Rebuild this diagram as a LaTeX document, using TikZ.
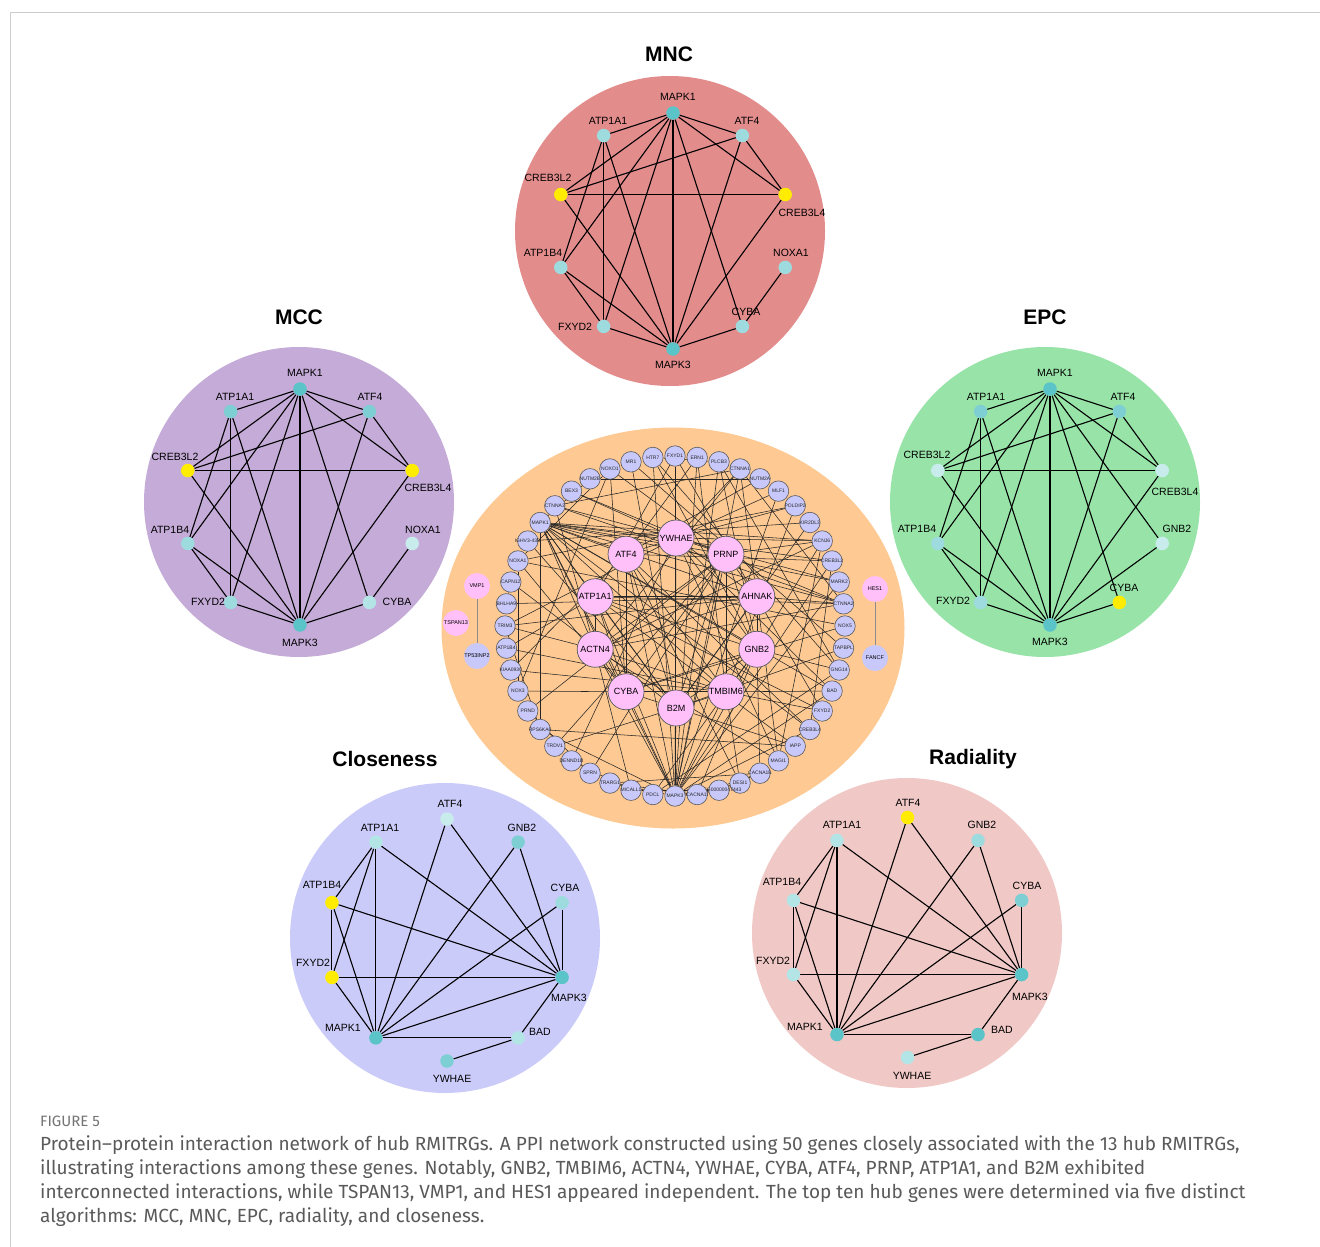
\documentclass[tikz,border=0pt]{standalone}
\usepackage{fontspec}
\setmainfont{Liberation Sans}
\newfontfamily\capfont{Fira Sans}
\usetikzlibrary{shapes.geometric}
\pgfdeclarelayer{back}
\pgfdeclarelayer{edges}
\pgfsetlayers{back,edges,main}
\definecolor{mncbg}{RGB}{227,140,140}
\definecolor{mccbg}{RGB}{197,171,216}
\definecolor{epcbg}{RGB}{152,228,168}
\definecolor{clobg}{RGB}{203,203,250}
\definecolor{radbg}{RGB}{240,200,198}
\definecolor{ellbg}{RGB}{254,201,146}
\definecolor{ringfill}{RGB}{200,200,250}
\definecolor{hubfill}{RGB}{255,192,250}
\definecolor{tD}{RGB}{91,196,201}
\definecolor{tM}{RGB}{125,207,211}
\definecolor{tL}{RGB}{158,219,222}
\definecolor{tLL}{RGB}{180,229,230}
\definecolor{tX}{RGB}{200,236,236}
\definecolor{yel}{RGB}{255,236,0}
\definecolor{capgray}{RGB}{90,90,90}
\tikzset{
  gdot/.style={circle, minimum size=13.5pt, inner sep=0pt, draw=none},
  glab/.style={font=\fontsize{10.5}{12}\selectfont, inner sep=0pt},
  gedge/.style={line width=1.1pt, black},
  ttl/.style={font=\fontsize{21}{24}\selectfont\bfseries, inner sep=0pt},
  bgdisc/.style={circle, draw=none, minimum size=310pt, inner sep=0pt},
  ringn/.style={circle, draw=black!65, line width=0.6pt, fill=ringfill, minimum size=20.5pt, inner sep=0pt,
    label={[font=\fontsize{5}{6}\selectfont, inner sep=0pt, text=black!85]center:#1}},
  hubn/.style={circle, draw=black!65, line width=0.7pt, fill=hubfill, minimum size=36pt, inner sep=0pt,
    label={[font=\fontsize{9}{10}\selectfont, inner sep=0pt]center:#1}},
  isol/.style={circle, draw=none, minimum size=26pt, inner sep=0pt,
    label={[font=\fontsize{5.5}{6}\selectfont, inner sep=0pt]center:#1}},
  cedge/.style={line width=0.55pt, black!85},
  capline/.style={anchor=west, inner sep=0pt, font=\capfont\fontsize{19}{22}\selectfont, text=capgray},
}
\newcommand\gn[6]{%
  \node[gdot, fill=#3] (#1) at ({\cx+\R*cos(#2)},{\cy-\R*sin(#2)}) {};
  \node[glab] (#1-l) at (#4,#5) {#6};}
\def\mnclist{MAPK1/ATP1A1, MAPK1/ATF4, MAPK1/CREB3L4, MAPK1/CREB3L2, MAPK1/ATP1B4, MAPK1/FXYD2, MAPK1/MAPK3, MAPK1/CYBA, ATP1A1/ATP1B4, ATP1A1/FXYD2, ATP1A1/MAPK3, ATF4/CREB3L2, ATF4/CREB3L4, ATF4/MAPK3, CREB3L2/CREB3L4, CREB3L2/MAPK3, CREB3L4/MAPK3, ATP1B4/FXYD2, ATP1B4/MAPK3, FXYD2/MAPK3, CYBA/MAPK3, NOXA1/CYBA}
\def\epclist{MAPK1/ATP1A1, MAPK1/ATF4, MAPK1/CREB3L4, MAPK1/CREB3L2, MAPK1/ATP1B4, MAPK1/FXYD2, MAPK1/MAPK3, MAPK1/CYBA, MAPK1/GNB2, ATP1A1/ATP1B4, ATP1A1/FXYD2, ATP1A1/MAPK3, ATF4/CREB3L2, ATF4/CREB3L4, ATF4/MAPK3, CREB3L2/CREB3L4, CREB3L2/MAPK3, CREB3L4/MAPK3, ATP1B4/FXYD2, ATP1B4/MAPK3, FXYD2/MAPK3, CYBA/MAPK3, GNB2/MAPK3}
\def\clolist{ATP1A1/ATP1B4, ATP1A1/FXYD2, ATP1A1/MAPK1, ATP1A1/MAPK3, ATF4/MAPK1, ATF4/MAPK3, GNB2/MAPK1, GNB2/MAPK3, CYBA/MAPK1, CYBA/MAPK3, ATP1B4/FXYD2, ATP1B4/MAPK1, ATP1B4/MAPK3, FXYD2/MAPK3, FXYD2/MAPK1, MAPK1/MAPK3, MAPK1/BAD, MAPK3/BAD, BAD/YWHAE}
\begin{document}
\begin{tikzpicture}[x=1pt,y=-1pt]
\useasboundingbox (0,0) rectangle (1320,1247);

% ---------- backgrounds ----------
\begin{pgfonlayer}{back}
\fill[white] (0,0) rectangle (1320,1247);
\draw[black!20, line width=0.8pt] (1320,12) -- (10,12) -- (10,1247);
\node[bgdisc, fill=mncbg] (bg-mnc) at (670,231) {};
\node[bgdisc, fill=mccbg] (bg-mcc) at (299,502) {};
\node[bgdisc, fill=epcbg] (bg-epc) at (1045,502) {};
\node[bgdisc, fill=clobg] (bg-clo) at (445,938) {};
\node[bgdisc, fill=radbg] (bg-rad) at (907,933) {};
\node[ellipse, draw=none, fill=ellbg, minimum width=463pt, minimum height=401pt, inner sep=0pt] (bg-ell) at (673,628) {};
\end{pgfonlayer}

% ---------- titles ----------
\node[ttl] (t-mnc) at (669,54) {MNC};
\node[ttl] (t-mcc) at (299,317) {MCC};
\node[ttl] (t-epc) at (1045,317) {EPC};
\node[ttl] (t-clo) at (385,759) {Closeness};
\node[ttl] (t-rad) at (973,759) {Radiality};

% ---------- MNC ----------
\begin{scope}[name prefix=mnc-]
\def\cx{673}\def\cy{231}\def\R{118}
\gn{MAPK1}{90}{tD}{678}{97}{MAPK1}
\gn{ATF4}{54}{tL}{747}{121}{ATF4}
\gn{CREB3L4}{18}{yel}{802}{213}{CREB3L4}
\gn{NOXA1}{-18}{tL}{791}{253}{NOXA1}
\gn{CYBA}{-54}{tL}{746}{312}{CYBA}
\gn{MAPK3}{-90}{tD}{673}{365}{MAPK3}
\gn{FXYD2}{-126}{tL}{575}{327}{FXYD2}
\gn{ATP1B4}{-162}{tL}{543}{253}{ATP1B4}
\gn{CREB3L2}{162}{yel}{548}{178}{CREB3L2}
\gn{ATP1A1}{126}{tL}{608}{121}{ATP1A1}
\begin{pgfonlayer}{edges}
\foreach \a/\b in \mnclist {\draw[gedge] (\a) -- (\b);}
\end{pgfonlayer}
\end{scope}

% ---------- MCC ----------
\begin{scope}[name prefix=mcc-]
\def\cx{300}\def\cy{507}\def\R{118}
\gn{MAPK1}{90}{tD}{305}{373}{MAPK1}
\gn{ATF4}{54}{tM}{370}{397}{ATF4}
\gn{CREB3L4}{18}{yel}{428}{488}{CREB3L4}
\gn{NOXA1}{-18}{tX}{423}{530}{NOXA1}
\gn{CYBA}{-54}{tLL}{397}{602}{CYBA}
\gn{MAPK3}{-90}{tD}{300}{643}{MAPK3}
\gn{FXYD2}{-126}{tL}{208}{602}{FXYD2}
\gn{ATP1B4}{-162}{tL}{170}{530}{ATP1B4}
\gn{CREB3L2}{162}{yel}{175}{457}{CREB3L2}
\gn{ATP1A1}{126}{tM}{235}{397}{ATP1A1}
\begin{pgfonlayer}{edges}
\foreach \a/\b in \mnclist {\draw[gedge] (\a) -- (\b);}
\end{pgfonlayer}
\end{scope}

% ---------- EPC ----------
\begin{scope}[name prefix=epc-]
\def\cx{1050}\def\cy{507}\def\R{118}
\gn{MAPK1}{90}{tD}{1055}{373}{MAPK1}
\gn{ATF4}{54}{tM}{1123}{397}{ATF4}
\gn{CREB3L4}{18}{tX}{1175}{492}{CREB3L4}
\gn{GNB2}{-18}{tX}{1177}{529}{GNB2}
\gn{CYBA}{-54}{yel}{1124}{588}{CYBA}
\gn{MAPK3}{-90}{tD}{1050}{642}{MAPK3}
\gn{FXYD2}{-126}{tL}{953}{601}{FXYD2}
\gn{ATP1B4}{-162}{tL}{917}{529}{ATP1B4}
\gn{CREB3L2}{162}{tX}{927}{455}{CREB3L2}
\gn{ATP1A1}{126}{tM}{986}{397}{ATP1A1}
\begin{pgfonlayer}{edges}
\foreach \a/\b in \epclist {\draw[gedge] (\a) -- (\b);}
\end{pgfonlayer}
\end{scope}

% ---------- Closeness ----------
\begin{scope}[name prefix=clo-]
\def\cx{447}\def\cy{940}\def\R{121}
\gn{ATF4}{90}{tX}{450}{804}{ATF4}
\gn{GNB2}{54}{tM}{522}{828}{GNB2}
\gn{CYBA}{18}{tL}{565}{888}{CYBA}
\gn{MAPK3}{-18}{tD}{569}{998}{MAPK3}
\gn{BAD}{-54}{tLL}{540}{1032}{BAD}
\gn{YWHAE}{-90}{tM}{452}{1079}{YWHAE}
\gn{MAPK1}{-126}{tD}{343}{1028}{MAPK1}
\gn{FXYD2}{-162}{yel}{313}{963}{FXYD2}
\gn{ATP1B4}{162}{yel}{322}{885}{ATP1B4}
\gn{ATP1A1}{126}{tLL}{380}{828}{ATP1A1}
\begin{pgfonlayer}{edges}
\foreach \a/\b in \clolist {\draw[gedge] (\a) -- (\b);}
\end{pgfonlayer}
\end{scope}

% ---------- Radiality ----------
\begin{scope}[name prefix=rad-]
\def\cx{907.5}\def\cy{937.5}\def\R{120}
\gn{ATF4}{90}{yel}{908}{803}{ATF4}
\gn{GNB2}{54}{tL}{982}{825}{GNB2}
\gn{CYBA}{18}{tM}{1027}{886}{CYBA}
\gn{MAPK3}{-18}{tD}{1030}{997}{MAPK3}
\gn{BAD}{-54}{tD}{1002}{1030}{BAD}
\gn{YWHAE}{-90}{tLL}{912}{1076}{YWHAE}
\gn{MAPK1}{-126}{tD}{805}{1027}{MAPK1}
\gn{FXYD2}{-162}{tLL}{773}{961}{FXYD2}
\gn{ATP1B4}{162}{tLL}{782}{882}{ATP1B4}
\gn{ATP1A1}{126}{tLL}{842}{825}{ATP1A1}
\begin{pgfonlayer}{edges}
\foreach \a/\b in \clolist {\draw[gedge] (\a) -- (\b);}
\end{pgfonlayer}
\end{scope}

% ---------- central PPI network ----------
\begin{scope}[name prefix=c-]
\foreach \ang/\nm/\tx in {90/FXYD1/FXYD1, 82.5/ERN1/ERN1, 75/PLCB3/PLCB3, 67.5/CTNNA1/CTNNA1, 60/NUTM2A/NUTM2A, 52.5/MLF1/MLF1, 45/POLDIP2/POLDIP2, 37.5/KIR2DL3/KIR2DL3, 30/KCNJ6/KCNJ6, 22.5/CREB3L2/CREB3L2, 15/MARK2/MARK2, 7.5/CTNNA2/CTNNA2, 0/NOX5/NOX5, -7.5/TAPBPL/TAPBPL, -15/GNG14/GNG14, -22.5/BAD/BAD, -30/FXYD2/FXYD2, -37.5/CREB3L4/CREB3L4, -45/IAPP/IAPP, -52.5/MAGI1/MAGI1, -60/CACNA1B/CACNA1B, -67.5/DESI1/DESI1, -75/ENSG/ENSG00000047443, -82.5/CACNA1I/CACNA1I, -90/MAPK3/MAPK3, -97.5/PDCL/PDCL, -105/MICALL1/MICALL1, -112.5/TRARG1/TRARG1, -120/SPRN/SPRN, -127.5/DENND1B/DENND1B, -135/TRDV1/TRDV1, -142.5/RPS6KA6/RPS6KA6, -150/PRND/PRND, -157.5/NOX3/NOX3, -165/KIAA0930/KIAA0930, -172.5/ATP1B4/ATP1B4, 180/TRIM3/TRIM3, 172.5/BHLHA9/BHLHA9, 165/CAPN12/CAPN12, 157.5/NOXA1/NOXA1, 150/IGHV/IGHV3-43D, 142.5/MAPK1/MAPK1, 135/CTNNA3/CTNNA3, 127.5/BEX3/BEX3, 120/NUTM2B/NUTM2B, 112.5/NOXO1/NOXO1, 105/MR1/MR1, 97.5/HTR7/HTR7}
  {\node[ringn=\tx] (\nm) at ({675+170*cos(\ang)},{626-170*sin(\ang)}) {};}
\foreach \ang/\nm in {90/YWHAE, 54/PRNP, 18/AHNAK, -18/GNB2, -54/TMBIM6, -90/B2M, -126/CYBA, -162/ACTN4, 162/ATP1A1, 126/ATF4}
  {\node[hubn=\nm] (\nm) at ({676+85*cos(\ang)},{623-85*sin(\ang)}) {};}
\node[isol=VMP1, fill=hubfill] (VMP1) at (477,586) {};
\node[isol=TSPAN13, fill=hubfill] (TSPAN13) at (456,623) {};
\node[isol=TP53INP2, fill=ringfill] (TP53INP2) at (477,656) {};
\node[isol=HES1, fill=hubfill] (HES1) at (875,589) {};
\node[isol=FANCF, fill=ringfill] (FANCF) at (875,658) {};
\begin{pgfonlayer}{edges}
\draw[black!45, line width=1pt] (VMP1) -- (TP53INP2);
\draw[black!45, line width=1pt] (HES1) -- (FANCF);
\foreach \a/\b in {MAPK1/MAPK3, MAPK1/ATF4, MAPK1/ATP1A1, MAPK1/YWHAE, MAPK1/PRNP, MAPK1/AHNAK, MAPK1/GNB2, MAPK1/CREB3L2, MAPK1/CREB3L4, MAPK1/BAD, MAPK1/CYBA, MAPK1/RPS6KA6, MAPK1/MARK2, MAPK1/ACTN4, MAPK1/TMBIM6, MAPK1/CTNNA2, MAPK1/B2M, MAPK1/KCNJ6,
 MAPK3/ATF4, MAPK3/ATP1A1, MAPK3/YWHAE, MAPK3/PRNP, MAPK3/GNB2, MAPK3/BAD, MAPK3/CREB3L2, MAPK3/CREB3L4, MAPK3/RPS6KA6, MAPK3/CYBA, MAPK3/ACTN4, MAPK3/B2M, MAPK3/TMBIM6, MAPK3/MARK2, MAPK3/CTNNA1, MAPK3/HTR7, MAPK3/PLCB3, MAPK3/ERN1, MAPK3/FXYD1, MAPK3/MLF1,
 YWHAE/BAD, YWHAE/MARK2, YWHAE/ATF4, YWHAE/PRNP, YWHAE/CTNNA1, YWHAE/CTNNA3, YWHAE/BEX3, YWHAE/GNB2, YWHAE/AHNAK, YWHAE/MAGI1, YWHAE/DENND1B, YWHAE/KCNJ6, YWHAE/POLDIP2, YWHAE/TRIM3, YWHAE/MLF1,
 ATF4/CREB3L2, ATF4/CREB3L4, ATF4/ERN1, ATF4/B2M, ATF4/TMBIM6, ATF4/NUTM2A, ATF4/CYBA, ATF4/DESI1, ATF4/KIAA0930,
 PRNP/B2M, PRNP/AHNAK, PRNP/ACTN4, PRNP/PRND, PRNP/SPRN, PRNP/CYBA, PRNP/TMBIM6, PRNP/GNB2, PRNP/KCNJ6, PRNP/NOXO1, PRNP/TRDV1,
 ATP1A1/ATP1B4, ATP1A1/FXYD2, ATP1A1/FXYD1, ATP1A1/ACTN4, ATP1A1/GNB2, ATP1A1/CYBA, ATP1A1/AHNAK, ATP1A1/IAPP, ATP1A1/CTNNA2, ATP1A1/B2M,
 AHNAK/ACTN4, AHNAK/GNB2, AHNAK/B2M, AHNAK/CTNNA1, AHNAK/CTNNA2, AHNAK/MAGI1, AHNAK/TRIM3, AHNAK/BHLHA9,
 GNB2/GNG14, GNB2/PLCB3, GNB2/KCNJ6, GNB2/HTR7, GNB2/CACNA1B, GNB2/CACNA1I, GNB2/TMBIM6, GNB2/CYBA, GNB2/B2M, GNB2/PDCL,
 ACTN4/CTNNA1, ACTN4/CTNNA2, ACTN4/CTNNA3, ACTN4/MAGI1, ACTN4/MICALL1, ACTN4/TRIM3, ACTN4/CYBA, ACTN4/KCNJ6, ACTN4/TMBIM6,
 CYBA/NOXA1, CYBA/NOXO1, CYBA/NOX3, CYBA/NOX5, CYBA/B2M, CYBA/TMBIM6,
 B2M/MR1, B2M/TAPBPL, B2M/KIR2DL3, B2M/TRDV1, B2M/IGHV, B2M/IAPP, B2M/TMBIM6, B2M/CAPN12,
 TMBIM6/ERN1, TMBIM6/BAD, TMBIM6/DESI1, TMBIM6/KIAA0930, TMBIM6/POLDIP2,
 NOXO1/NOXA1, NOX3/NOXO1, NOX5/NOXA1, NOX3/NOXA1, NUTM2A/NUTM2B, CTNNA1/CTNNA2, CTNNA1/CTNNA3, CTNNA2/CTNNA3, CACNA1B/CACNA1I, TRARG1/CACNA1B, TRARG1/CACNA1I, CACNA1B/ENSG, CACNA1I/ENSG, GNG14/PLCB3, HTR7/GNG14, HTR7/PLCB3, PRND/SPRN, MR1/TAPBPL, MICALL1/DENND1B, PDCL/GNG14, DESI1/MAPK3, MAGI1/KCNJ6, ATP1B4/FXYD2, FXYD1/FXYD2, CREB3L2/CREB3L4, IAPP/RPS6KA6, CAPN12/BHLHA9, ENSG/MAPK3, CACNA1I/MAPK3, TRARG1/MAPK3, MICALL1/ENSG, MAPK1/NUTM2B, TRIM3/RPS6KA6, IGHV/KIR2DL3, BEX3/CTNNA2, NOXA1/POLDIP2}
  {\draw[cedge] (\a) -- (\b);}
\end{pgfonlayer}
\end{scope}

% ---------- caption ----------
\node[anchor=west, inner sep=0pt, font=\capfont\fontsize{15}{17}\selectfont, text=black!55] (cap0) at (40,1121) {FIGURE 5};
\node[capline] (cap1) at (40,1145) {Protein–protein interaction network of hub RMITRGs. A PPI network constructed using 50 genes closely associated with the 13 hub RMITRGs,};
\node[capline] (cap2) at (40,1169) {illustrating interactions among these genes. Notably, GNB2, TMBIM6, ACTN4, YWHAE, CYBA, ATF4, PRNP, ATP1A1, and B2M exhibited};
\node[capline] (cap3) at (40,1193) {interconnected interactions, while TSPAN13, VMP1, and HES1 appeared independent. The top ten hub genes were determined via five distinct};
\node[capline] (cap4) at (40,1217) {algorithms: MCC, MNC, EPC, radiality, and closeness.};
\end{tikzpicture}
\end{document}
